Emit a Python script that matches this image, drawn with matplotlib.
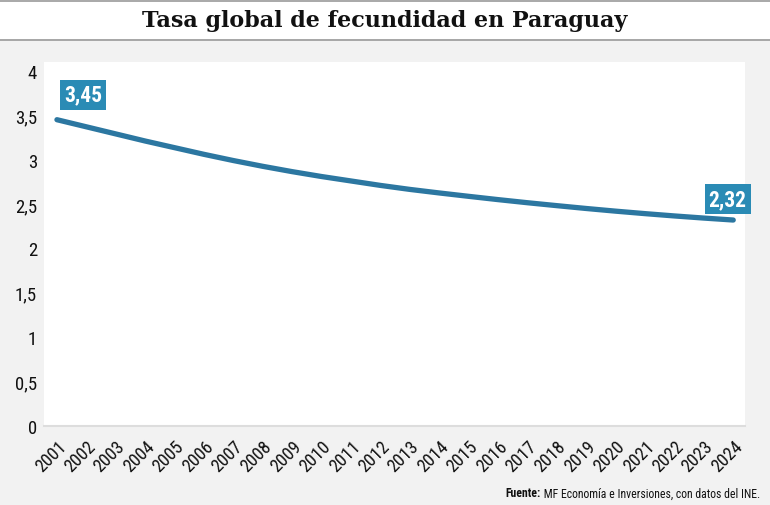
import matplotlib
matplotlib.use("Agg")
import matplotlib.pyplot as plt
from matplotlib.lines import Line2D

years = list(range(2001, 2025))
tasa = [3.45, 3.37, 3.29, 3.21, 3.135, 3.06, 2.99, 2.925, 2.865, 2.81, 2.76, 2.71,
        2.665, 2.625, 2.587, 2.55, 2.515, 2.482, 2.45, 2.42, 2.392, 2.366, 2.342, 2.32]
yticks = [0, 0.5, 1, 1.5, 2, 2.5, 3, 3.5, 4]
ytick_labels = ["0", "0,5", "1", "1,5", "2", "2,5", "3", "3,5", "4"]

narrow = ["Liberation Sans Narrow", "Roboto Condensed", "Liberation Sans", "DejaVu Sans"]
title_font = ["DejaVu Serif"]

line_color = "#2c77a1"
box_color = "#2a8bb5"

fig = plt.figure(figsize=(7.7, 5.06), dpi=100)
fig.patch.set_facecolor("#f2f2f2")

# white title band with grey rules
band = plt.Rectangle((0, 1 - 40 / 506), 1, 40 / 506, transform=fig.transFigure,
                     facecolor="white", edgecolor="none", zorder=0)
fig.patches.append(band)
for yy in [1 - 2 / 506, 1 - 41 / 506]:
    fig.add_artist(Line2D([0, 1], [yy, yy], transform=fig.transFigure,
                          color="#9a9a9a", lw=1.2))
fig.text(0.5, 1 - 21 / 506, "Tasa global de fecundidad en Paraguay",
         ha="center", va="center", fontsize=16, fontweight="bold",
         family=title_font, color="#111111")

ax = fig.add_axes([44 / 770, 1 - 427 / 506, 701 / 770, 364 / 506])
ax.set_facecolor("white")
ax.plot(years, tasa, color=line_color, lw=3.8, solid_capstyle="round")
ax.set_xlim(2000.56, 2024.4)
ax.set_ylim(0, 4.1)

ax.set_yticks(yticks)
ax.set_yticklabels(ytick_labels, family=narrow, fontsize=13.5, color="#111111")
ax.set_xticks(years)
ax.set_xticklabels([str(y) for y in years], rotation=45, ha="right",
                   rotation_mode="anchor", family=narrow, fontsize=13, color="#111111")
ax.tick_params(axis="x", length=0, pad=8)
ax.tick_params(axis="y", length=0, pad=5)
for s in ["top", "right", "left"]:
    ax.spines[s].set_visible(False)
ax.spines["bottom"].set_color("#dddddd")
ax.spines["bottom"].set_linewidth(1.5)

box = dict(boxstyle="square,pad=0.18", facecolor=box_color, edgecolor="none")
ax.annotate("3,45", (years[0], tasa[0]), xytext=(19, 18), textcoords="offset points",
            ha="center", va="center", color="white", fontsize=15.5, fontweight="bold",
            family=narrow, bbox=box, annotation_clip=False)
ax.annotate("2,32", (years[-1], tasa[-1]), xytext=(-4, 15), textcoords="offset points",
            ha="center", va="center", color="white", fontsize=15.5, fontweight="bold",
            family=narrow, bbox=box, annotation_clip=False)

t = fig.text(760 / 770, 1 - 494 / 506, " MF Economía e Inversiones, con datos del INE.",
             ha="right", va="center", fontsize=8.5, family=narrow, color="#111111")
fig.canvas.draw()
bb = t.get_window_extent()
fig.text(bb.x0 / 770, 1 - 494 / 506, "Fuente:", ha="right", va="center",
         fontsize=8.5, fontweight="bold", family=narrow, color="#111111")

fig.savefig("out.png", dpi=100, facecolor=fig.get_facecolor())
